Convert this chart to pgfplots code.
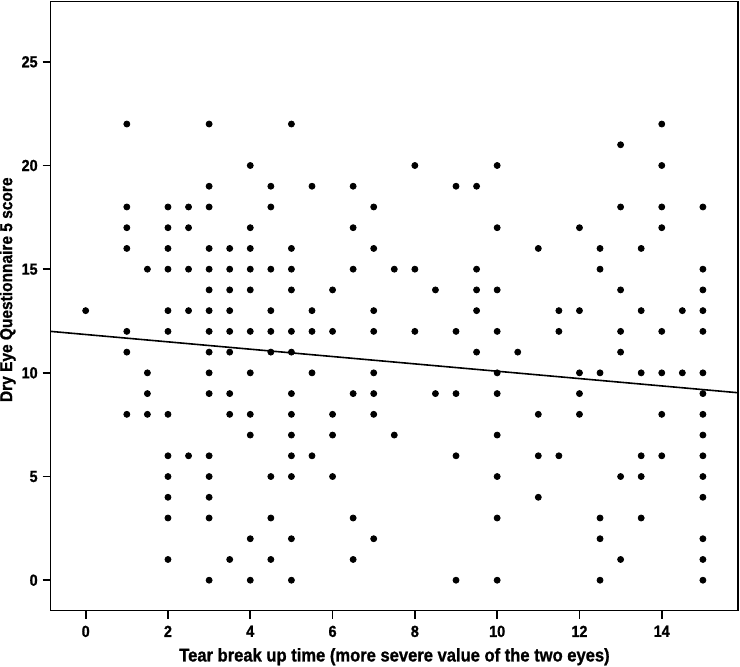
\documentclass[border=0pt]{standalone}
\usepackage{fontspec}
\setmainfont{Liberation Sans}[FakeStretch=0.9, BoldFeatures={FakeBold=1}]
\usepackage{pgfplots}
\pgfplotsset{compat=1.18}
\begin{document}
\begin{tikzpicture}
\useasboundingbox (0,0) rectangle (370pt,333.5pt);
\begin{axis}[
  at={(25.35pt,28.15pt)}, anchor=south west,
  scale only axis, width=343.8pt, height=304.5pt,
  xmin=-0.85, xmax=15.86, ymin=-1.47, ymax=27.9,
  axis line style={line width=0.8pt},
  xtick={0,2,...,14}, ytick={0,5,...,25},
  tick align=outside, tick pos=left, major tick length=4pt,
  every tick/.style={line width=0.9pt, black},
  /pgf/number format/assume math mode=true,
  ticklabel style={font=\bfseries\fontsize{8}{9}\selectfont},
  yticklabel style={xshift=1pt},
  xlabel={Tear break up time (more severe value of the two eyes)},
  ylabel={Dry Eye Questionnaire 5 score},
  xlabel style={font=\bfseries\fontsize{9.2}{11}\selectfont, at={(axis description cs:0.5,0)}, anchor=center, yshift=-23pt},
  ylabel style={font=\bfseries\fontsize{8.6}{10}\selectfont, at={(axis description cs:0,0.527)}, anchor=center, yshift=21.5pt},
  clip=false,
]
\addplot[only marks, mark=*, mark size=1.5pt, black] coordinates {
(0,13)
(1,22) (1,18) (1,17) (1,16) (1,12) (1,11) (1,8)
(1.5,15) (1.5,10) (1.5,9) (1.5,8)
(2,18) (2,17) (2,16) (2,15) (2,13) (2,12) (2,8) (2,6) (2,5) (2,4) (2,3) (2,1)
(2.5,18) (2.5,17) (2.5,15) (2.5,13) (2.5,6)
(3,22) (3,19) (3,18) (3,16) (3,15) (3,14) (3,13) (3,12) (3,11) (3,10) (3,9) (3,6) (3,5) (3,4) (3,3) (3,0)
(3.5,16) (3.5,15) (3.5,14) (3.5,13) (3.5,12) (3.5,11) (3.5,9) (3.5,8) (3.5,1)
(4,20) (4,17) (4,16) (4,15) (4,14) (4,12) (4,10) (4,8) (4,7) (4,2) (4,0)
(4.5,19) (4.5,18) (4.5,15) (4.5,13) (4.5,12) (4.5,11) (4.5,5) (4.5,3) (4.5,1)
(5,22) (5,16) (5,15) (5,14) (5,12) (5,11) (5,9) (5,8) (5,7) (5,6) (5,5) (5,2) (5,0)
(5.5,19) (5.5,13) (5.5,12) (5.5,10) (5.5,6)
(6,14) (6,12) (6,8) (6,7) (6,5)
(6.5,19) (6.5,17) (6.5,15) (6.5,9) (6.5,3) (6.5,1)
(7,18) (7,16) (7,13) (7,12) (7,10) (7,9) (7,8) (7,2)
(7.5,15) (7.5,7)
(8,20) (8,15) (8,12)
(8.5,14) (8.5,9)
(9,19) (9,12) (9,9) (9,6) (9,0)
(9.5,19) (9.5,15) (9.5,14) (9.5,13) (9.5,11)
(10,20) (10,17) (10,14) (10,12) (10,10) (10,9) (10,7) (10,5) (10,3) (10,0)
(10.5,11)
(11,16) (11,8) (11,6) (11,4)
(11.5,13) (11.5,12) (11.5,6)
(12,17) (12,13) (12,10) (12,9) (12,8)
(12.5,16) (12.5,15) (12.5,10) (12.5,3) (12.5,2) (12.5,0)
(13,21) (13,18) (13,14) (13,12) (13,11) (13,5) (13,1)
(13.5,16) (13.5,13) (13.5,10) (13.5,6) (13.5,5) (13.5,3)
(14,22) (14,20) (14,18) (14,17) (14,12) (14,10) (14,8) (14,6)
(14.5,13) (14.5,10)
(15,18) (15,15) (15,14) (15,13) (15,12) (15,10) (15,9) (15,8) (15,7) (15,6) (15,5) (15,4) (15,2) (15,1) (15,0)
};
\addplot[black, line width=0.8pt, no marks] coordinates {(-0.85,12.0) (15.86,9.04)};
\end{axis}
\end{tikzpicture}
\end{document}
